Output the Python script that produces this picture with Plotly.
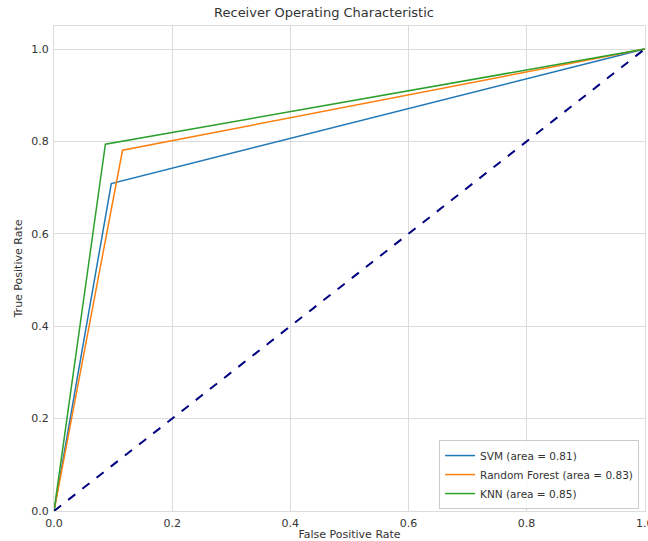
import plotly.graph_objects as go

# ROC curve points (FPR, TPR) for each classifier
models = ["SVM", "Random Forest", "KNN"]
aucs = [0.81, 0.83, 0.85]
fpr = [[0.0, 0.097, 1.0], [0.0, 0.116, 1.0], [0.0, 0.087, 1.0]]
tpr = [[0.0, 0.709, 1.0], [0.0, 0.781, 1.0], [0.0, 0.794, 1.0]]
colors = ["#1f77b4", "#ff7f0e", "#2ca02c"]

chance_x = [0.0, 1.0]
chance_y = [0.0, 1.0]
tick_vals = [0.0, 0.2, 0.4, 0.6, 0.8, 1.0]

fig = go.Figure()
for name, auc, fx, ty, c in zip(models, aucs, fpr, tpr, colors):
    fig.add_trace(go.Scatter(
        x=fx, y=ty, mode="lines",
        name=f"{name} (area = {auc:.2f})",
        line=dict(color=c, width=1.5),
    ))

fig.add_trace(go.Scatter(
    x=chance_x, y=chance_y, mode="lines", showlegend=False,
    line=dict(color="navy", width=2, dash="dash"),
))

axis_common = dict(
    showgrid=True, gridcolor="#dcdcdc", gridwidth=1,
    zeroline=False, showline=True, linecolor="#dcdcdc", linewidth=1, mirror=True,
    ticks="", tickfont=dict(size=11, color="#333333", family="DejaVu Sans"),
    tickvals=tick_vals, ticktext=[f"{v:.1f}" for v in tick_vals],
    automargin=False, ticklabeloverflow="allow",
)

fig.update_layout(
    width=648, height=541,
    margin=dict(l=54, r=3, t=26, b=30),
    paper_bgcolor="white", plot_bgcolor="white",
    font=dict(family="DejaVu Sans", color="#333333"),
    title=dict(text="Receiver Operating Characteristic", x=0.5, xanchor="center",
               y=0.985, yanchor="top", font=dict(size=13, color="#333333")),
    xaxis=dict(range=[0, 1.0005], ticklabelstandoff=2,
               title=dict(text="False Positive Rate", font=dict(size=11), standoff=6),
               **axis_common),
    yaxis=dict(range=[0, 1.05], ticklabelstandoff=2,
               title=dict(text="True Positive Rate", font=dict(size=11), standoff=6),
               **axis_common),
    legend=dict(x=0.99, y=0.004, xanchor="right", yanchor="bottom",
                bgcolor="rgba(255,255,255,0.8)", bordercolor="#cccccc", borderwidth=1,
                font=dict(size=10.5, color="#333333"), tracegroupgap=0,
                itemwidth=30),
    showlegend=True,
)

fig.write_html("out.html")
